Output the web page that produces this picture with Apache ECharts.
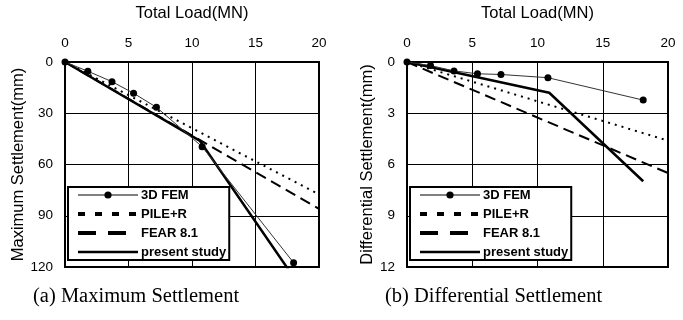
<!DOCTYPE html>
<html><head><meta charset="utf-8">
<script src="https://cdn.jsdelivr.net/npm/echarts@6/dist/echarts.min.js"></script>
<style>html,body{margin:0;padding:0;background:#fff}#c{width:683px;height:320px}</style>
</head><body><div id="c"></div>
<script>
const xTicks = [0, 5, 10, 15, 20];
const seriesNames = ['3D FEM', 'PILE+R', 'FEAR 8.1', 'present study'];
// (a) Maximum settlement (mm)
const femMax = [[0,0],[1.8,5.4],[3.7,11.5],[5.4,18.3],[7.2,26.5],[10.8,49.6],[18.0,117.5]];
const pileMax = [[0,0],[20,77.5]];
const fearMax = [[0,0],[20,86]];
const presentMax = [[0,0],[10.6,46],[18.1,127]];
// (b) Differential settlement (mm)
const femDiff = [[0,0],[1.8,0.21],[3.6,0.52],[5.4,0.69],[7.2,0.73],[10.8,0.92],[18.1,2.23]];
const pileDiff = [[0,0],[20,4.6]];
const fearDiff = [[0,0],[20,6.5]];
const presentDiff = [[0,0],[10.9,1.8],[18.1,6.98]];
const captions = ['(a) Maximum Settlement', '(b) Differential Settlement'];

const chart = echarts.init(document.getElementById('c'), null, {renderer:'canvas'});
const styles = {
  '3D FEM': {lineStyle:{color:'#333', width:1}, symbol:'circle', symbolSize:7, showSymbol:true, itemStyle:{color:'#000'}},
  'PILE+R': {lineStyle:{color:'#000', width:2, type:[2,5]}, symbol:'none', itemStyle:{color:'#000'}},
  'FEAR 8.1': {lineStyle:{color:'#000', width:2, type:[11,6]}, symbol:'none', itemStyle:{color:'#000'}},
  'present study': {lineStyle:{color:'#000', width:2.5}, symbol:'none', itemStyle:{color:'#000'}}
};
function mk(name, data, idx){
  return Object.assign({type:'line', name, data, xAxisIndex:idx, yAxisIndex:idx, clip:true, animation:false, z: name==='3D FEM'?5:3}, styles[name]);
}
function xAx(idx){
  return {type:'value', gridIndex:idx, position:'top', min:0, max:20, interval:5,
    name:'Total Load(MN)', nameLocation:'middle', nameGap:40,
    nameTextStyle:{fontFamily:'Liberation Sans', fontSize:16.5, color:'#000'},
    axisLine:{show:false}, axisTick:{show:false},
    axisLabel:{fontFamily:'Liberation Sans', fontSize:13.5, color:'#000', margin:12},
    splitLine:{lineStyle:{color:'#000', width:1}}};
}
function yAx(idx, max, interval, name){
  return {type:'value', gridIndex:idx, inverse:true, min:0, max, interval,
    name, nameLocation:'middle', nameGap:idx===0?38:31, nameRotate:90,
    nameTextStyle:{fontFamily:'Liberation Sans', fontSize:16.5, color:'#000'},
    axisLine:{show:false}, axisTick:{show:false},
    axisLabel:{fontFamily:'Liberation Sans', fontSize:13.5, color:'#000', margin:12},
    splitLine:{lineStyle:{color:'#000', width:1}}};
}
const legendData = [
  {name:'3D FEM', lineStyle:{width:1, color:'#000', opacity:1}, itemStyle:{color:'#000'}},
  {name:'PILE+R', lineStyle:{width:4, type:[7,10], color:'#000', opacity:1}, itemStyle:{opacity:0}},
  {name:'FEAR 8.1', lineStyle:{width:4, type:[18,12], color:'#000', opacity:1}, itemStyle:{opacity:0}},
  {name:'present study', lineStyle:{width:2.5, color:'#000', opacity:1}, itemStyle:{opacity:0}}
];
function legend(left){
  return {orient:'vertical', left, top:187, data:legendData, itemWidth:60, itemHeight:9, itemGap:5,
    padding:[1,3,1,8], backgroundColor:'#fff', borderColor:'#000', borderWidth:2, borderRadius:0,
    selectedMode:false, textStyle:{fontFamily:'Liberation Sans', fontWeight:'bold', fontSize:13, lineHeight:14, color:'#000', padding:[0,0,0,-2]}};
}
chart.setOption({
  animation:false,
  grid:[{left:65, right:364, top:59, bottom:53, show:true, borderColor:'#000', borderWidth:2, z:4},
        {left:407, right:15, top:59, bottom:53, show:true, borderColor:'#000', borderWidth:2, z:4}],
  xAxis:[xAx(0), xAx(1)],
  yAxis:[yAx(0,120,30,'Maximum Settlement(mm)'), yAx(1,12,3,'Differential Settlement(mm)')],
  legend:[legend(68), legend(410)],
  series:[
    mk('3D FEM', femMax, 0), mk('PILE+R', pileMax, 0), mk('FEAR 8.1', fearMax, 0), mk('present study', presentMax, 0),
    mk('3D FEM', femDiff, 1), mk('PILE+R', pileDiff, 1), mk('FEAR 8.1', fearDiff, 1), mk('present study', presentDiff, 1)
  ],
  graphic:[
    {type:'text', left:33, top:286, style:{text:captions[0], font:'20.5px "Liberation Serif"', fill:'#000'}},
    {type:'text', left:385, top:286, style:{text:captions[1], font:'20.5px "Liberation Serif"', fill:'#000'}}
  ]
});
</script></body></html>
